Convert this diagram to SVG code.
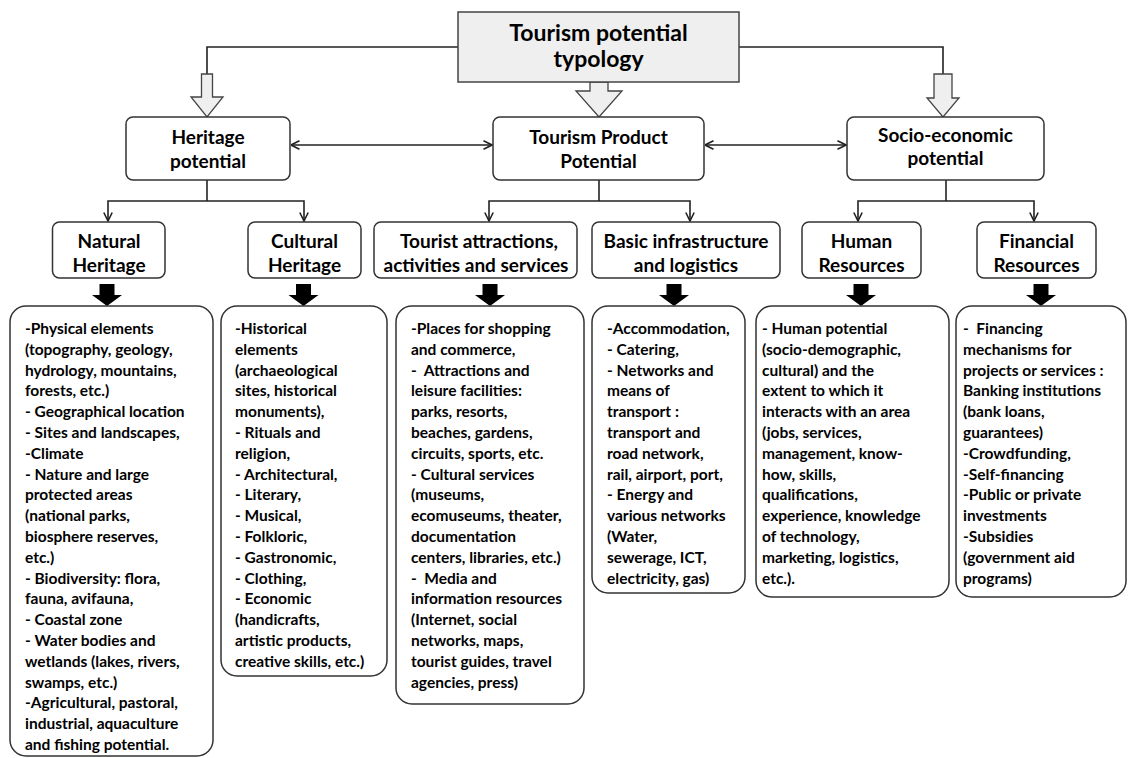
<svg xmlns="http://www.w3.org/2000/svg" width="1129" height="758" viewBox="0 0 1129 758">
<style>
  .box { fill: #ffffff; stroke: #333333; stroke-width: 1.5; }
  .top { fill: #efefef; stroke: #444444; stroke-width: 1.5; }
  .hollow { fill: #efefef; stroke: #444444; stroke-width: 1.3; }
  .solid { fill: #000000; stroke: none; }
  .line { fill: none; stroke: #222222; stroke-width: 1.6; }
  text { font-family: Lato, "Liberation Sans", sans-serif; font-weight: bold; fill: #000000; }
  .title { font-size: 23px; text-anchor: middle; }
  .lbl { font-size: 19px; text-anchor: middle; }
  .body { font-size: 15.5px; }
</style>
<defs>
  <marker id="open" viewBox="0 0 10 10" refX="9.5" refY="5" markerWidth="10" markerHeight="10" markerUnits="userSpaceOnUse" orient="auto-start-reverse">
    <path d="M1,0.8 L9.5,5 L1,9.2" fill="none" stroke="#222222" stroke-width="1.6"/>
  </marker>
</defs>

<g id="connectors">
  <path class="line" d="M458,47 H207 V74"/>
  <path class="line" d="M739,47 H943 V74"/>
  <path class="hollow" d="M201.5,74 H212.5 V97 H223 L207,117 L191,97 H201.5 Z"/>
  <path class="hollow" d="M590,82 H608 V91 H622 L599,117 L576,91 H590 Z"/>
  <path class="hollow" d="M934,74 H952 V98 H959 L943,117 L927,98 H934 Z"/>
  <path class="line" d="M291,145 H492" marker-start="url(#open)" marker-end="url(#open)"/>
  <path class="line" d="M705,145 H846" marker-start="url(#open)" marker-end="url(#open)"/>
  <path class="line" d="M207,180 V201"/>
  <path class="line" d="M108,221 V201 H304 V221" marker-start="url(#open)" marker-end="url(#open)"/>
  <path class="line" d="M599,180 V201"/>
  <path class="line" d="M489,221 V201 H690 V221" marker-start="url(#open)" marker-end="url(#open)"/>
  <path class="line" d="M946,180 V201"/>
  <path class="line" d="M858,221 V201 H1034 V221" marker-start="url(#open)" marker-end="url(#open)"/>
  <path class="solid" d="M99.5,284 H114.5 V295 H122 L107,306 L92,295 H99.5 Z"/>
  <path class="solid" d="M296,284 H311 V295 H318.5 L303.5,306 L288.5,295 H296 Z"/>
  <path class="solid" d="M482.5,284 H497.5 V295 H505 L490,306 L475,295 H482.5 Z"/>
  <path class="solid" d="M666.5,284 H681.5 V295 H689 L674,306 L659,295 H666.5 Z"/>
  <path class="solid" d="M853.5,284 H868.5 V295 H876 L861,306 L846,295 H853.5 Z"/>
  <path class="solid" d="M1033.5,284 H1048.5 V295 H1056 L1041,306 L1026,295 H1033.5 Z"/>
</g>

<g id="node-typology">
  <rect class="top" x="458" y="12" width="281" height="70"/>
  <text class="title" x="598.5" y="41">Tourism potential</text>
  <text class="title" x="598.5" y="67">typology</text>
</g>

<g id="node-heritage">
  <rect class="box" x="126" y="117" width="164" height="63" rx="7"/>
  <text class="lbl" x="208" y="144">Heritage</text>
  <text class="lbl" x="208" y="168">potential</text>
</g>
<g id="node-product">
  <rect class="box" x="493" y="117" width="211" height="63" rx="7"/>
  <text class="lbl" x="598.5" y="144">Tourism Product</text>
  <text class="lbl" x="598.5" y="168">Potential</text>
</g>
<g id="node-socio">
  <rect class="box" x="847" y="117" width="197" height="63" rx="7"/>
  <text class="lbl" x="945.5" y="142">Socio-economic</text>
  <text class="lbl" x="945.5" y="165">potential</text>
</g>

<g id="node-natural">
  <rect class="box" x="52.5" y="222" width="112.5" height="56" rx="7"/>
  <text class="lbl" x="109" y="248">Natural</text>
  <text class="lbl" x="109" y="272">Heritage</text>
</g>
<g id="node-cultural">
  <rect class="box" x="248" y="222" width="113" height="56" rx="7"/>
  <text class="lbl" x="304.5" y="248">Cultural</text>
  <text class="lbl" x="304.5" y="272">Heritage</text>
</g>
<g id="node-attractions">
  <rect class="box" x="374" y="222" width="203" height="56" rx="7"/>
  <text class="lbl" x="479" y="248">Tourist attractions,</text>
  <text class="lbl" x="476" y="272">activities and services</text>
</g>
<g id="node-infrastructure">
  <rect class="box" x="592" y="222" width="188" height="56" rx="7"/>
  <text class="lbl" x="686" y="248">Basic infrastructure</text>
  <text class="lbl" x="686" y="272">and logistics</text>
</g>
<g id="node-human">
  <rect class="box" x="802" y="222" width="119" height="56" rx="7"/>
  <text class="lbl" x="861.5" y="248">Human</text>
  <text class="lbl" x="861.5" y="272">Resources</text>
</g>
<g id="node-financial">
  <rect class="box" x="977" y="222" width="119" height="56" rx="7"/>
  <text class="lbl" x="1036.5" y="248">Financial</text>
  <text class="lbl" x="1036.5" y="272">Resources</text>
</g>

<g id="list-natural">
  <rect class="box" x="10" y="306" width="203" height="450" rx="16"/>
  <text class="body" x="25" y="334"><tspan x="25">-Physical elements</tspan><tspan x="25" dy="20.8">(topography, geology,</tspan><tspan x="25" dy="20.8">hydrology, mountains,</tspan><tspan x="25" dy="20.8">forests, etc.)</tspan><tspan x="25" dy="20.8">- Geographical location</tspan><tspan x="25" dy="20.8">- Sites and landscapes,</tspan><tspan x="25" dy="20.8">-Climate</tspan><tspan x="25" dy="20.8">- Nature and large</tspan><tspan x="25" dy="20.8">protected areas</tspan><tspan x="25" dy="20.8">(national parks,</tspan><tspan x="25" dy="20.8">biosphere reserves,</tspan><tspan x="25" dy="20.8">etc.)</tspan><tspan x="25" dy="20.8">- Biodiversity: flora,</tspan><tspan x="25" dy="20.8">fauna, avifauna,</tspan><tspan x="25" dy="20.8">- Coastal zone</tspan><tspan x="25" dy="20.8">- Water bodies and</tspan><tspan x="25" dy="20.8">wetlands (lakes, rivers,</tspan><tspan x="25" dy="20.8">swamps, etc.)</tspan><tspan x="25" dy="20.8">-Agricultural, pastoral,</tspan><tspan x="25" dy="20.8">industrial, aquaculture</tspan><tspan x="25" dy="20.8">and fishing potential.</tspan></text>
</g>
<g id="list-cultural">
  <rect class="box" x="221" y="306" width="166" height="370" rx="16"/>
  <text class="body" x="235" y="334"><tspan x="235">-Historical</tspan><tspan x="235" dy="20.8">elements</tspan><tspan x="235" dy="20.8">(archaeological</tspan><tspan x="235" dy="20.8">sites, historical</tspan><tspan x="235" dy="20.8">monuments),</tspan><tspan x="235" dy="20.8">- Rituals and</tspan><tspan x="235" dy="20.8">religion,</tspan><tspan x="235" dy="20.8">- Architectural,</tspan><tspan x="235" dy="20.8">- Literary,</tspan><tspan x="235" dy="20.8">- Musical,</tspan><tspan x="235" dy="20.8">- Folkloric,</tspan><tspan x="235" dy="20.8">- Gastronomic,</tspan><tspan x="235" dy="20.8">- Clothing,</tspan><tspan x="235" dy="20.8">- Economic</tspan><tspan x="235" dy="20.8">(handicrafts,</tspan><tspan x="235" dy="20.8">artistic products,</tspan><tspan x="235" dy="20.8">creative skills, etc.)</tspan></text>
</g>
<g id="list-attractions">
  <rect class="box" x="396" y="306" width="188" height="398" rx="16"/>
  <text class="body" x="411" y="334"><tspan x="411">-Places for shopping</tspan><tspan x="411" dy="20.8">and commerce,</tspan><tspan x="411" dy="20.8">-&#160; Attractions and</tspan><tspan x="411" dy="20.8">leisure facilities:</tspan><tspan x="411" dy="20.8">parks, resorts,</tspan><tspan x="411" dy="20.8">beaches, gardens,</tspan><tspan x="411" dy="20.8">circuits, sports, etc.</tspan><tspan x="411" dy="20.8">- Cultural services</tspan><tspan x="411" dy="20.8">(museums,</tspan><tspan x="411" dy="20.8">ecomuseums, theater,</tspan><tspan x="411" dy="20.8">documentation</tspan><tspan x="411" dy="20.8">centers, libraries, etc.)</tspan><tspan x="411" dy="20.8">-&#160; Media and</tspan><tspan x="411" dy="20.8">information resources</tspan><tspan x="411" dy="20.8">(Internet, social</tspan><tspan x="411" dy="20.8">networks, maps,</tspan><tspan x="411" dy="20.8">tourist guides, travel</tspan><tspan x="411" dy="20.8">agencies, press)</tspan></text>
</g>
<g id="list-infrastructure">
  <rect class="box" x="592" y="306" width="153" height="287" rx="16"/>
  <text class="body" x="607" y="334"><tspan x="607">-Accommodation,</tspan><tspan x="607" dy="20.8">- Catering,</tspan><tspan x="607" dy="20.8">- Networks and</tspan><tspan x="607" dy="20.8">means of</tspan><tspan x="607" dy="20.8">transport :</tspan><tspan x="607" dy="20.8">transport and</tspan><tspan x="607" dy="20.8">road network,</tspan><tspan x="607" dy="20.8">rail, airport, port,</tspan><tspan x="607" dy="20.8">- Energy and</tspan><tspan x="607" dy="20.8">various networks</tspan><tspan x="607" dy="20.8">(Water,</tspan><tspan x="607" dy="20.8">sewerage, ICT,</tspan><tspan x="607" dy="20.8">electricity, gas)</tspan></text>
</g>
<g id="list-human">
  <rect class="box" x="756" y="306" width="193" height="291" rx="16"/>
  <text class="body" x="762" y="334"><tspan x="762">- Human potential</tspan><tspan x="762" dy="20.8">(socio-demographic,</tspan><tspan x="762" dy="20.8">cultural) and the</tspan><tspan x="762" dy="20.8">extent to which it</tspan><tspan x="762" dy="20.8">interacts with an area</tspan><tspan x="762" dy="20.8">(jobs, services,</tspan><tspan x="762" dy="20.8">management, know-</tspan><tspan x="762" dy="20.8">how, skills,</tspan><tspan x="762" dy="20.8">qualifications,</tspan><tspan x="762" dy="20.8">experience, knowledge</tspan><tspan x="762" dy="20.8">of technology,</tspan><tspan x="762" dy="20.8">marketing, logistics,</tspan><tspan x="762" dy="20.8">etc.).</tspan></text>
</g>
<g id="list-financial">
  <rect class="box" x="956" y="306" width="170" height="291" rx="16"/>
  <text class="body" x="963" y="334"><tspan x="963">-&#160; Financing</tspan><tspan x="963" dy="20.8">mechanisms for</tspan><tspan x="963" dy="20.8">projects or services :</tspan><tspan x="963" dy="20.8">Banking institutions</tspan><tspan x="963" dy="20.8">(bank loans,</tspan><tspan x="963" dy="20.8">guarantees)</tspan><tspan x="963" dy="20.8">-Crowdfunding,</tspan><tspan x="963" dy="20.8">-Self-financing</tspan><tspan x="963" dy="20.8">-Public or private</tspan><tspan x="963" dy="20.8">investments</tspan><tspan x="963" dy="20.8">-Subsidies</tspan><tspan x="963" dy="20.8">(government aid</tspan><tspan x="963" dy="20.8">programs)</tspan></text>
</g>
</svg>
